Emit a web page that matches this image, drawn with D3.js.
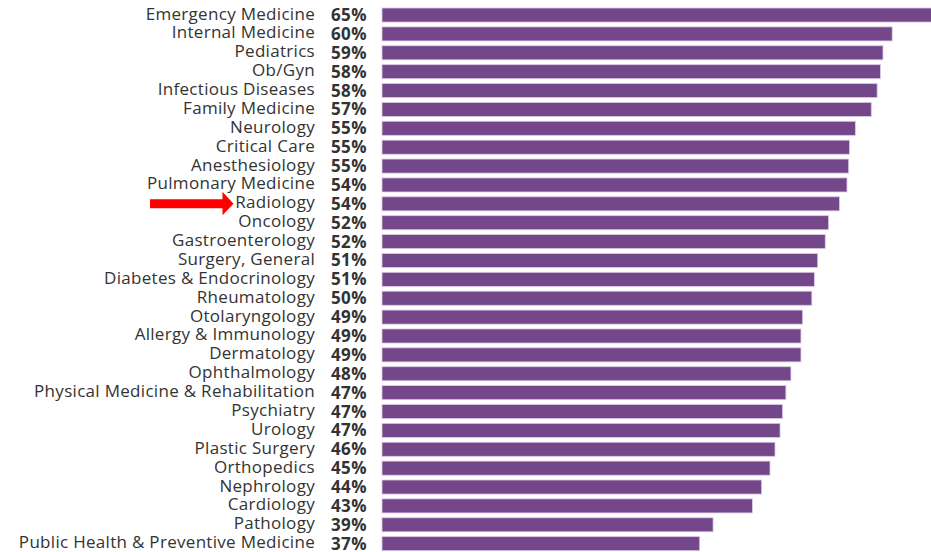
<!DOCTYPE html>
<html>
<head>
<meta charset="utf-8">
<script src="https://cdn.jsdelivr.net/npm/d3@7"></script>
<style>
  body { margin: 0; background: #fff; }
  .cat { font-family: "Open Sans", sans-serif; font-size: 17px; letter-spacing: 0.3px; fill: #333; }
  .pct { font-family: "Open Sans", sans-serif; font-size: 17px; font-weight: 700; letter-spacing: 0.4px; fill: #333; }
</style>
</head>
<body>
<script>
const specialties = [
  "Emergency Medicine", "Internal Medicine", "Pediatrics", "Ob/Gyn",
  "Infectious Diseases", "Family Medicine", "Neurology", "Critical Care",
  "Anesthesiology", "Pulmonary Medicine", "Radiology", "Oncology",
  "Gastroenterology", "Surgery, General", "Diabetes & Endocrinology",
  "Rheumatology", "Otolaryngology", "Allergy & Immunology", "Dermatology",
  "Ophthalmology", "Physical Medicine & Rehabilitation", "Psychiatry",
  "Urology", "Plastic Surgery", "Orthopedics", "Nephrology", "Cardiology",
  "Pathology", "Public Health & Preventive Medicine"
];
// bar lengths
const values = [
  65.2, 60.0, 58.9, 58.6, 58.2, 57.5, 55.6, 54.9, 54.8, 54.6, 53.7, 52.4,
  52.0, 51.1, 50.7, 50.4, 49.3, 49.1, 49.1, 47.9, 47.3, 46.9, 46.6, 46.0,
  45.4, 44.4, 43.3, 38.6, 37.0
];
// percentages printed next to each bar
const pctLabels = [
  "65%", "60%", "59%", "58%", "58%", "57%", "55%", "55%", "55%", "54%",
  "54%", "52%", "52%", "51%", "51%", "50%", "49%", "49%", "49%", "48%",
  "47%", "47%", "47%", "46%", "45%", "44%", "43%", "39%", "37%"
];
const highlight = "Radiology";

const width = 931;
const height = 552;
const barStart = 382;

const svg = d3.select("body")
  .append("svg")
  .attr("width", width)
  .attr("height", height);

const x = d3.scaleLinear()
  .domain([0, 100])
  .range([390, 1227]);

const y = d3.scaleBand()
  .domain(specialties)
  .range([8, 550.7])
  .paddingInner(0.255)
  .paddingOuter(0);

const rows = specialties.map((s, i) => ({ name: s, value: values[i], label: pctLabels[i] }));

// bars
svg.append("g")
  .selectAll("rect")
  .data(rows)
  .enter()
  .append("rect")
  .attr("x", barStart)
  .attr("y", (d) => y(d.name))
  .attr("width", (d) => x(d.value) - barStart)
  .attr("height", y.bandwidth())
  .attr("fill", "#74478b")
  .attr("stroke", "#dccbe8")
  .attr("stroke-width", 0.8);

// specialty names
svg.append("g")
  .selectAll("text")
  .data(rows)
  .enter()
  .append("text")
  .attr("class", "cat")
  .attr("x", 315)
  .attr("y", (d) => y(d.name) + y.bandwidth() / 2 + 4.5)
  .attr("text-anchor", "end")
  .text((d) => d.name);

// percentages
svg.append("g")
  .selectAll("text")
  .data(rows)
  .enter()
  .append("text")
  .attr("class", "pct")
  .attr("x", 331)
  .attr("y", (d) => y(d.name) + y.bandwidth() / 2 + 6)
  .text((d) => d.label);

// red arrow pointing at the highlighted row
const ay = y(highlight) + y.bandwidth() / 2;
svg.append("path")
  .attr("d", `M150,${ay - 4.5} L222.5,${ay - 4.5} L222.5,${ay - 12} L233.5,${ay} L222.5,${ay + 11.5} L222.5,${ay + 4.5} L150,${ay + 4.5} Z`)
  .attr("fill", "#ff0000");
</script>
</body>
</html>
